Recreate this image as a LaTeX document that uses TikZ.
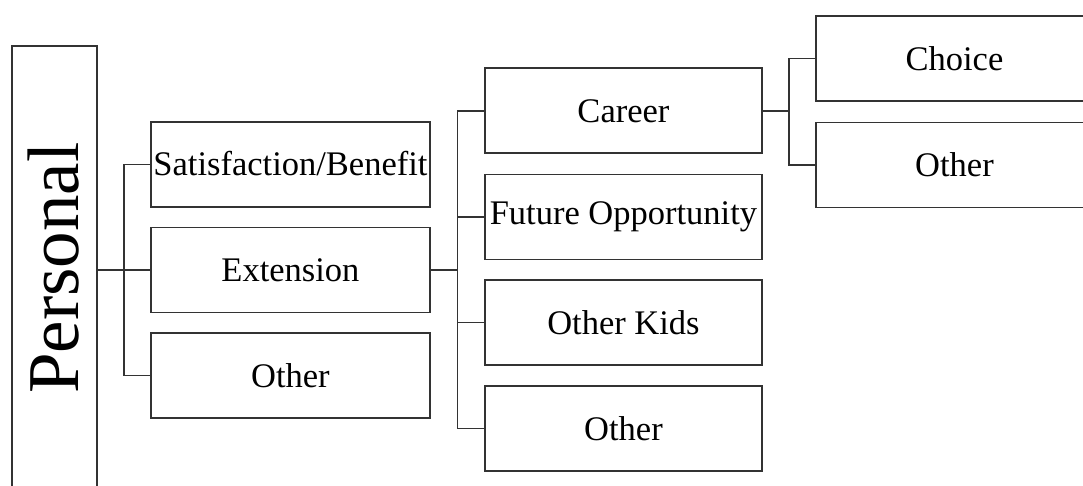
\documentclass[tikz,border=0pt]{standalone}
\usepackage{fontspec}
\setmainfont{Liberation Serif}
\usetikzlibrary{calc}
\definecolor{linecol}{HTML}{333333}
\begin{document}
\begin{tikzpicture}[x=1pt,y=-1pt,
  box/.style={draw=linecol, line width=1.9pt, minimum width=277pt, minimum height=85pt,
    inner sep=0pt, anchor=north west, font=\fontsize{34.5}{40}\selectfont},
  link/.style={draw=linecol, line width=1.9pt}]
\useasboundingbox (0,0) rectangle (1083,485);
\fill[white] (0,0) rectangle (1083,485);
\clip (0,0) rectangle (1083,485);
% root
\node[draw=linecol, line width=1.9pt, minimum width=85pt, minimum height=470pt,
      inner sep=0pt, anchor=north west] (personal) at (11,45) {};
\node[rotate=90, inner sep=0pt, font=\fontsize{73}{80}\selectfont] (ptext) at (53.5,268) {Personal};
% level 1
\node[box, minimum width=279pt] (sat)  at (150,121)   {\raisebox{3pt}{Satisfaction/Benefit}};
\node[box, minimum width=279pt] (ext)  at (150,226.5) {Extension};
\node[box, minimum width=279pt] (oth1) at (150,332)   {Other};
% level 2
\node[box] (career) at (484,67.3)  {Career};
\node[box] (future) at (484,173.5) {Future Opportunity};
\node[box] (kids)   at (484,279)   {Other Kids};
\node[box] (oth2)   at (484,385)   {Other};
% level 3
\node[box] (choice) at (815,15)    {Choice};
\node[box] (oth3)   at (815,121.5) {Other};
% connectors level 1
\coordinate (b1) at ($(personal.east |- ext.west)!0.5!(ext.west)$);
\draw[link] (personal.east |- ext.west) -- (ext.west);
\draw[link] (sat.west) -| (b1) |- (oth1.west);
% connectors level 2
\coordinate (b2) at ($(ext.east)!0.5!(career.west |- ext.east)$);
\draw[link] (ext.east) -- (b2);
\draw[link] (career.west) -| (b2) |- (oth2.west);
\draw[link] (future.west) -- (b2 |- future.west);
\draw[link] (kids.west) -- (b2 |- kids.west);
% connectors level 3
\coordinate (b3) at ($(career.east)!0.5!(choice.west |- career.east)$);
\draw[link] (career.east) -- (b3);
\draw[link] (choice.west) -| (b3) |- (oth3.west);
\end{tikzpicture}
\end{document}
